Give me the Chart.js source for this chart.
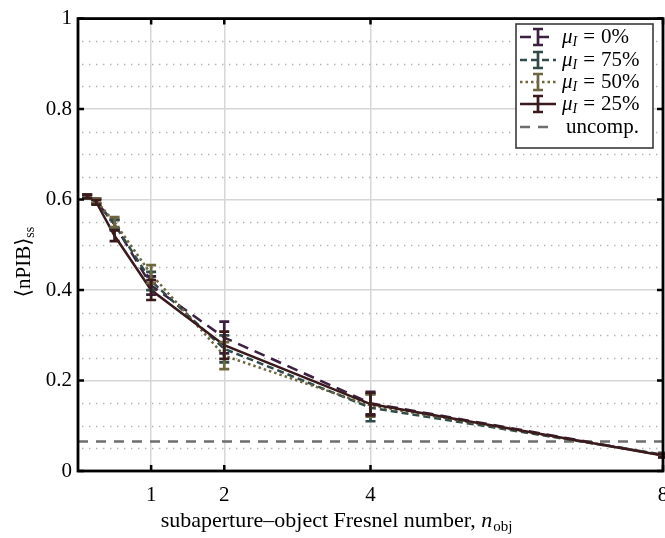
<!DOCTYPE html>
<html>
<head>
<meta charset="utf-8">
<script src="https://cdn.jsdelivr.net/npm/chart.js@4.4.0/dist/chart.umd.min.js"></script>
<style>
  html, body { margin: 0; padding: 0; background: #fff; }
</style>
</head>
<body>
<canvas id="chart" width="665" height="538"></canvas>
<script>
// data
const nObj = [0.125, 0.25, 0.5, 1, 2, 4, 8];

const mu0 = [0.607, 0.596, 0.545, 0.41, 0.295, 0.15, 0.035];
const mu0Err = [0.004, 0.005, 0.01, 0.02, 0.035, 0.025, 0.004];

const mu75 = [0.606, 0.597, 0.545, 0.42, 0.27, 0.14, 0.036];
const mu75Err = [0.004, 0.005, 0.01, 0.02, 0.03, 0.03, 0.004];

const mu50 = [0.607, 0.597, 0.55, 0.435, 0.255, 0.145, 0.035];
const mu50Err = [0.004, 0.005, 0.011, 0.02, 0.03, 0.025, 0.004];

const mu25 = [0.607, 0.594, 0.52, 0.40, 0.278, 0.148, 0.034];
const mu25Err = [0.004, 0.005, 0.012, 0.022, 0.03, 0.025, 0.004];

const uncompValue = 0.065;

const xTicks = [1, 2, 4, 8];
const yTicks = [0, 0.2, 0.4, 0.6, 0.8, 1];
const yMinor = [0.05, 0.1, 0.15, 0.25, 0.3, 0.35, 0.45, 0.5, 0.55, 0.65, 0.7, 0.75, 0.85, 0.9, 0.95];

const serif = '"Liberation Serif", "DejaVu Serif", serif';

const series = [
    {label: '0%', data: mu0, err: mu0Err, color: '#3c2040', dash: [11, 7]},
    {label: '75%', data: mu75, err: mu75Err, color: '#2f4b4a', dash: [7, 4]},
    {label: '50%', data: mu50, err: mu50Err, color: '#6d663f', dash: [2.5, 3]},
    {label: '25%', data: mu25, err: mu25Err, color: '#3a1a1c', dash: []},
];

const toPoints = (vals) => nObj.map((v, i) => ({x: v, y: vals[i]}));

const datasets = series.map((s, i) => ({
    data: toPoints(s.data),
    borderColor: s.color,
    borderWidth: 2.5,
    borderDash: s.dash,
    pointRadius: 0,
    tension: 0,
    fill: false,
    order: series.length - i,
}));

datasets.push({
    data: [{x: 0, y: uncompValue}, {x: 8, y: uncompValue}],
    borderColor: '#6e6e6e',
    borderWidth: 2.5,
    borderDash: [10, 8],
    pointRadius: 0,
    fill: false,
    order: 10,
});

function drawErrorBar(ctx, px, top, bottom, color) {
    ctx.strokeStyle = color;
    ctx.lineWidth = 2.7;
    ctx.setLineDash([]);
    ctx.beginPath();
    ctx.moveTo(px, top);
    ctx.lineTo(px, bottom);
    ctx.moveTo(px - 5, top);
    ctx.lineTo(px + 5, top);
    ctx.moveTo(px - 5, bottom);
    ctx.lineTo(px + 5, bottom);
    ctx.stroke();
}

const decorations = {
    id: 'decorations',
    beforeDatasetsDraw(chart) {
        const {ctx, chartArea: a, scales: {y}} = chart;
        // dotted minor grid
        ctx.save();
        ctx.strokeStyle = '#b2b2b2';
        ctx.lineWidth = 1.3;
        ctx.setLineDash([1.4, 5.6]);
        yMinor.forEach(v => {
            const py = Math.round(y.getPixelForValue(v)) + 0.5;
            ctx.beginPath();
            ctx.moveTo(a.left + 4, py);
            ctx.lineTo(a.right, py);
            ctx.stroke();
        });
        ctx.restore();
    },
    afterDatasetsDraw(chart) {
        const {ctx, scales: {x, y}} = chart;
        ctx.save();
        series.forEach(s => {
            s.data.forEach((v, i) => {
                const px = x.getPixelForValue(nObj[i]);
                drawErrorBar(ctx, px, y.getPixelForValue(v + s.err[i]), y.getPixelForValue(v - s.err[i]), s.color);
            });
        });
        ctx.restore();
    },
    afterDraw(chart) {
        const {ctx, chartArea: a, scales: {x, y}} = chart;
        ctx.save();

        // inward ticks
        ctx.strokeStyle = '#000';
        ctx.lineWidth = 2.5;
        ctx.setLineDash([]);
        ctx.beginPath();
        xTicks.forEach(v => {
            const px = x.getPixelForValue(v);
            ctx.moveTo(px, a.bottom);
            ctx.lineTo(px, a.bottom - 6);
            ctx.moveTo(px, a.top);
            ctx.lineTo(px, a.top + 6);
        });
        yTicks.forEach(v => {
            const py = y.getPixelForValue(v);
            ctx.moveTo(a.left, py);
            ctx.lineTo(a.left + 6, py);
            ctx.moveTo(a.right, py);
            ctx.lineTo(a.right - 6, py);
        });
        ctx.stroke();

        // frame
        ctx.lineWidth = 2.8;
        ctx.strokeRect(a.left, a.top, a.right - a.left, a.bottom - a.top);

        // x title
        ctx.fillStyle = '#000';
        ctx.textBaseline = 'alphabetic';
        ctx.textAlign = 'left';
        const xt = 'subaperture\u2013object Fresnel number, ';
        ctx.font = 'italic 22px ' + serif;
        const wn = ctx.measureText('n').width;
        ctx.font = '15px ' + serif;
        const wsub = ctx.measureText('obj').width;
        ctx.font = '22px ' + serif;
        const wx = ctx.measureText(xt).width;
        let sx = 336 - (wx + wn + wsub) / 2;
        const sy = 527;
        ctx.fillText(xt, sx, sy);
        sx += wx;
        ctx.font = 'italic 22px ' + serif;
        ctx.fillText('n', sx, sy);
        sx += wn + 1;
        ctx.font = '15px ' + serif;
        ctx.fillText('obj', sx, sy + 4);

        // y title
        ctx.save();
        ctx.translate(30, 262);
        ctx.rotate(-Math.PI / 2);
        ctx.font = '21px ' + serif;
        const yt = '\u27E8nPIB\u27E9';
        const wy = ctx.measureText(yt).width;
        ctx.font = '14px ' + serif;
        const wss = ctx.measureText('ss').width;
        let ty = -(wy + wss) / 2;
        ctx.font = '21px ' + serif;
        ctx.fillText(yt, ty, 0);
        ty += wy;
        ctx.font = '14px ' + serif;
        ctx.fillText('ss', ty, 4);
        ctx.restore();

        // legend
        const lx = 516, ly = 24, lw = 137, lh = 124;
        ctx.fillStyle = '#fff';
        ctx.fillRect(lx, ly, lw, lh);
        ctx.strokeStyle = '#3a3a3a';
        ctx.lineWidth = 1.6;
        ctx.strokeRect(lx, ly, lw, lh);

        const rowY = [37, 60, 82, 104, 127];
        series.forEach((s, i) => {
            const ry = rowY[i];
            ctx.strokeStyle = s.color;
            ctx.lineWidth = 2.5;
            ctx.setLineDash(s.dash);
            ctx.beginPath();
            ctx.moveTo(lx + 4, ry);
            ctx.lineTo(lx + 40, ry);
            ctx.stroke();
            drawErrorBar(ctx, lx + 22, ry - 8, ry + 8, s.color);

            ctx.fillStyle = '#000';
            let tx = lx + 46;
            ctx.font = 'italic 21px ' + serif;
            ctx.fillText('\u03BC', tx, ry + 6);
            tx += ctx.measureText('\u03BC').width;
            ctx.font = 'italic 14px ' + serif;
            ctx.fillText('I', tx, ry + 9);
            tx += ctx.measureText('I').width + 6;
            ctx.font = '21px ' + serif;
            ctx.fillText('=', tx, ry + 6);
            tx += ctx.measureText('=').width + 6;
            ctx.fillText(s.label, tx, ry + 6);
        });
        ctx.strokeStyle = '#6e6e6e';
        ctx.lineWidth = 2.5;
        ctx.setLineDash([10, 8]);
        ctx.beginPath();
        ctx.moveTo(lx + 4, rowY[4]);
        ctx.lineTo(lx + 40, rowY[4]);
        ctx.stroke();
        ctx.fillStyle = '#000';
        ctx.font = '21px ' + serif;
        ctx.fillText('uncomp.', lx + 50, rowY[4] + 6);

        ctx.restore();
    }
};

new Chart(document.getElementById('chart'), {
    type: 'line',
    data: {datasets: datasets},
    options: {
        responsive: false,
        devicePixelRatio: 1,
        animation: false,
        layout: {
            padding: {top: 13, right: 2, left: 0, bottom: 0},
        },
        scales: {
            x: {
                type: 'linear',
                min: 0,
                max: 8,
                afterBuildTicks: (scale) => {
                    scale.ticks = xTicks.map(v => ({value: v}));
                },
                afterFit: (scale) => {
                    scale.height = 67;
                    scale.paddingLeft = 0;
                    scale.paddingRight = 0;
                },
                border: {display: false},
                grid: {
                    color: (c) => (c.tick && c.tick.value === 8) ? 'rgba(0,0,0,0)' : '#d6d6d6',
                    lineWidth: 1.5,
                    drawTicks: false,
                },
                ticks: {
                    color: '#000',
                    font: {family: serif, size: 21},
                    padding: 12,
                    maxRotation: 0,
                    autoSkip: false,
                },
            },
            y: {
                min: 0,
                max: 1,
                afterBuildTicks: (scale) => {
                    scale.ticks = yTicks.map(v => ({value: v}));
                },
                afterFit: (scale) => {
                    scale.width = 78;
                },
                border: {display: false},
                grid: {
                    color: (c) => (c.tick && (c.tick.value === 0 || c.tick.value === 1)) ? 'rgba(0,0,0,0)' : '#d6d6d6',
                    lineWidth: 1.5,
                    drawTicks: false,
                },
                ticks: {
                    color: '#000',
                    font: {family: serif, size: 21},
                    padding: 6,
                    callback: (v) => String(Math.round(v * 10) / 10),
                },
            },
        },
        plugins: {
            legend: {display: false},
            tooltip: {enabled: false},
        },
    },
    plugins: [decorations],
});
</script>
</body>
</html>
